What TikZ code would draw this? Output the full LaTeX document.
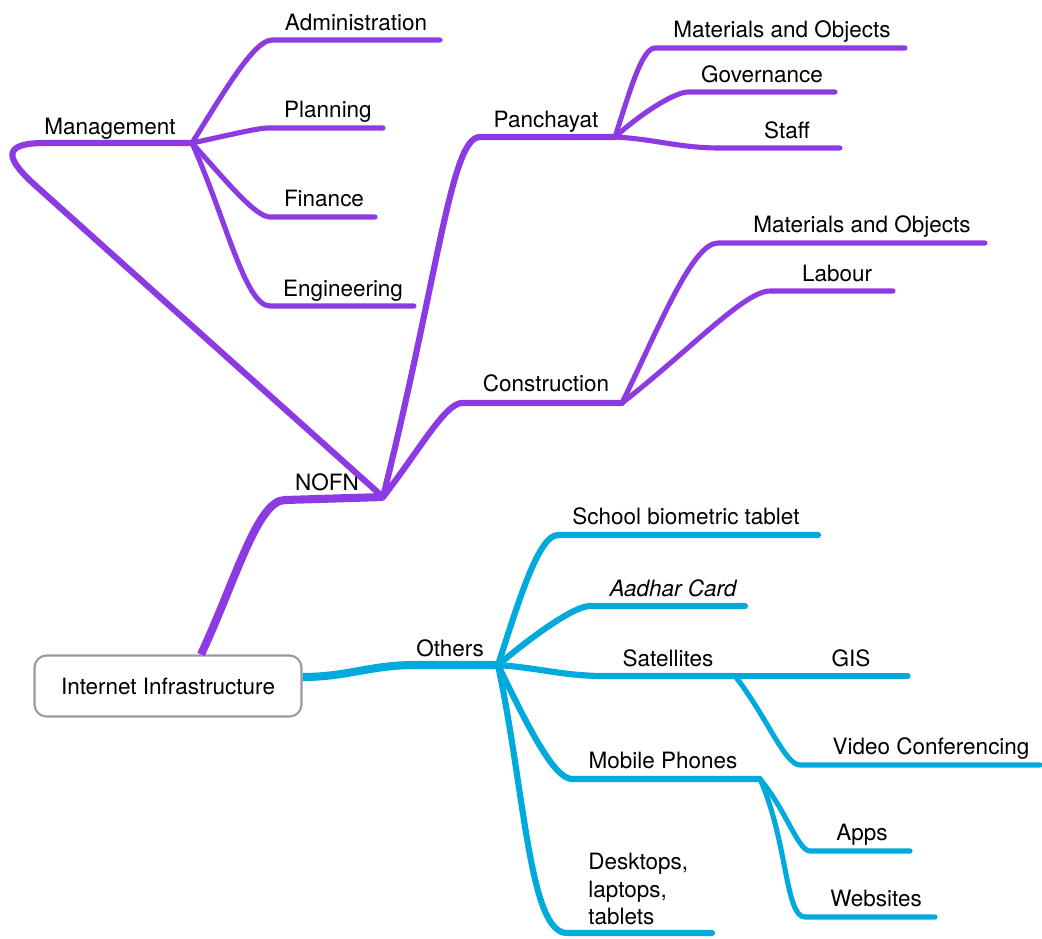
\documentclass[tikz,border=0pt]{standalone}
\usepackage{fontspec}
\setmainfont{TeX Gyre Heros}
\usetikzlibrary{calc}

\definecolor{mmpurple}{RGB}{140,58,226}
\definecolor{mmcyan}{RGB}{0,170,220}
\definecolor{mmgrey}{RGB}{155,155,155}

\begin{document}
\begin{tikzpicture}
    [
        x=0.02cm, y=0.02cm, line cap=round,
        topic/.style={anchor=base, inner sep=0pt, font=\fontsize{12.8pt}{15.4pt}\selectfont},
        root_node/.style={rectangle, rounded corners=2.4mm, draw=mmgrey, line width=1.2pt, fill=white, minimum width=5.34cm, minimum height=1.22cm, font=\fontsize{12.8pt}{15.4pt}\selectfont},
        main_line/.style={line width=4.6pt},
        sub_line/.style={line width=3.5pt},
        leaf_line/.style={line width=2.9pt},
        branch/.style={out=#1, in=180, out looseness=1.2, in looseness=0.35},
    ]
        \useasboundingbox (0,0) rectangle (1042,-938) ;
        \node[root_node] (root) at (168,-686) {Internet Infrastructure} ;

        % NOFN side
        \coordinate (nofn-s) at (285,-500) ;
        \coordinate (nofn-e) at (383,-497) ;
        \node[topic] (nofn) at (327,-490) {NOFN} ;
        \draw[main_line, mmpurple, line cap=butt] ($(root.north)+(33,0)$) to[out=65, in=180, out looseness=1.2, in looseness=0.4] (nofn-s) -- (nofn-e) ;

        \coordinate (mgmt-s) at (45,-143) ;
        \coordinate (mgmt-e) at (192,-143) ;
        \node[topic] (mgmt) at (110,-134) {Management} ;
        \draw[sub_line, mmpurple] (nofn-e) -- (36,-186) .. controls (6,-159) and (0,-143) .. (mgmt-s) -- (mgmt-e) ;

        \coordinate (admin-s) at (272,-40) ;
        \coordinate (admin-e) at (440,-40) ;
        \node[topic] (admin) at (356,-30) {Administration} ;
        \draw[leaf_line, mmpurple] (mgmt-e) to[branch=58] (admin-s) -- (admin-e) ;

        \coordinate (plan-s) at (268,-128) ;
        \coordinate (plan-e) at (383,-128) ;
        \node[topic] (plan) at (328,-117) {Planning} ;
        \draw[leaf_line, mmpurple] (mgmt-e) to[branch=12] (plan-s) -- (plan-e) ;

        \coordinate (fin-s) at (270,-217) ;
        \coordinate (fin-e) at (375,-217) ;
        \node[topic] (fin) at (324,-206) {Finance} ;
        \draw[leaf_line, mmpurple] (mgmt-e) to[branch=-48] (fin-s) -- (fin-e) ;

        \coordinate (eng-s) at (270,-306) ;
        \coordinate (eng-e) at (414,-306) ;
        \node[topic] (eng) at (343,-296) {Engineering} ;
        \draw[leaf_line, mmpurple] (mgmt-e) to[branch=-66] (eng-s) -- (eng-e) ;

        \coordinate (panch-s) at (480,-137) ;
        \coordinate (panch-e) at (615,-137) ;
        \node[topic] (panch) at (546,-127) {Panchayat} ;
        \draw[sub_line, mmpurple] (nofn-e) to[out=76, in=180, out looseness=1.6, in looseness=0.2] (panch-s) -- (panch-e) ;

        \coordinate (matp-s) at (655,-48) ;
        \coordinate (matp-e) at (905,-48) ;
        \node[topic] (matp) at (782,-37) {Materials and Objects} ;
        \draw[leaf_line, mmpurple] (panch-e) to[branch=72] (matp-s) -- (matp-e) ;

        \coordinate (gov-s) at (688,-92) ;
        \coordinate (gov-e) at (835,-92) ;
        \node[topic] (gov) at (762,-82) {Governance} ;
        \draw[leaf_line, mmpurple] (panch-e) to[branch=42] (gov-s) -- (gov-e) ;

        \coordinate (staff-s) at (720,-148) ;
        \coordinate (staff-e) at (840,-148) ;
        \node[topic] (staff) at (787,-138) {Staff} ;
        \draw[leaf_line, mmpurple] (panch-e) to[out=-3, in=180] (staff-s) -- (staff-e) ;

        \coordinate (cons-s) at (462,-403) ;
        \coordinate (cons-e) at (622,-403) ;
        \node[topic] (cons) at (546,-391) {Construction} ;
        \draw[sub_line, mmpurple] (nofn-e) to[branch=52] (cons-s) -- (cons-e) ;

        \coordinate (matc-s) at (718,-243) ;
        \coordinate (matc-e) at (985,-243) ;
        \node[topic] (matc) at (862,-232) {Materials and Objects} ;
        \draw[leaf_line, mmpurple] (cons-e) to[branch=64] (matc-s) -- (matc-e) ;

        \coordinate (lab-s) at (770,-291) ;
        \coordinate (lab-e) at (893,-291) ;
        \node[topic] (lab) at (837,-281) {Labour} ;
        \draw[leaf_line, mmpurple] (cons-e) to[branch=38] (lab-s) -- (lab-e) ;

        % Others side
        \coordinate (oth-s) at (415,-665) ;
        \coordinate (oth-e) at (498,-665) ;
        \node[topic] (oth) at (450,-656) {Others} ;
        \draw[main_line, mmcyan, line cap=butt] ($(root.east)+(0,9)$) to[out=0, in=180] (oth-s) -- (oth-e) ;

        \coordinate (school-s) at (558,-535) ;
        \coordinate (school-e) at (818,-535) ;
        \node[topic] (school) at (686,-524) {School biometric tablet} ;
        \draw[sub_line, mmcyan] (oth-e) to[branch=72] (school-s) -- (school-e) ;

        \coordinate (aadhar-s) at (590,-606) ;
        \coordinate (aadhar-e) at (745,-606) ;
        \node[topic] (aadhar) at (673,-596) {\itshape Aadhar Card} ;
        \draw[sub_line, mmcyan] (oth-e) to[branch=40] (aadhar-s) -- (aadhar-e) ;

        \coordinate (sat-s) at (605,-676) ;
        \coordinate (sat-e) at (735,-676) ;
        \node[topic] (sat) at (668,-666) {Satellites} ;
        \draw[sub_line, mmcyan] (oth-e) to[out=-4, in=180] (sat-s) -- (sat-e) ;

        \coordinate (gis-e) at (908,-676) ;
        \node[topic] (gis) at (851,-666) {GIS} ;
        \draw[leaf_line, mmcyan] (sat-e) -- (gis-e) ;

        \coordinate (vc-s) at (800,-765) ;
        \coordinate (vc-e) at (1040,-765) ;
        \node[topic] (vc) at (931,-754) {Video Conferencing} ;
        \draw[leaf_line, mmcyan] (sat-e) to[branch=-52] (vc-s) -- (vc-e) ;

        \coordinate (mob-s) at (572,-779) ;
        \coordinate (mob-e) at (760,-779) ;
        \node[topic] (mob) at (663,-768) {Mobile Phones} ;
        \draw[sub_line, mmcyan] (oth-e) to[branch=-64] (mob-s) -- (mob-e) ;

        \coordinate (apps-s) at (810,-851) ;
        \coordinate (apps-e) at (910,-851) ;
        \node[topic] (apps) at (862,-840) {Apps} ;
        \draw[leaf_line, mmcyan] (mob-e) to[branch=-50] (apps-s) -- (apps-e) ;

        \coordinate (web-s) at (805,-917) ;
        \coordinate (web-e) at (935,-917) ;
        \node[topic] (web) at (876,-906) {Websites} ;
        \draw[leaf_line, mmcyan] (mob-e) to[branch=-66] (web-s) -- (web-e) ;

        \coordinate (desk-s) at (567,-933) ;
        \coordinate (desk-e) at (712,-933) ;
        \node[topic, anchor=west, align=left] (desk) at (588,-889) {Desktops,\\laptops,\\tablets} ;
        \draw[sub_line, mmcyan] (oth-e) to[branch=-78] (desk-s) -- (desk-e) ;
    \end{tikzpicture}
\end{document}
